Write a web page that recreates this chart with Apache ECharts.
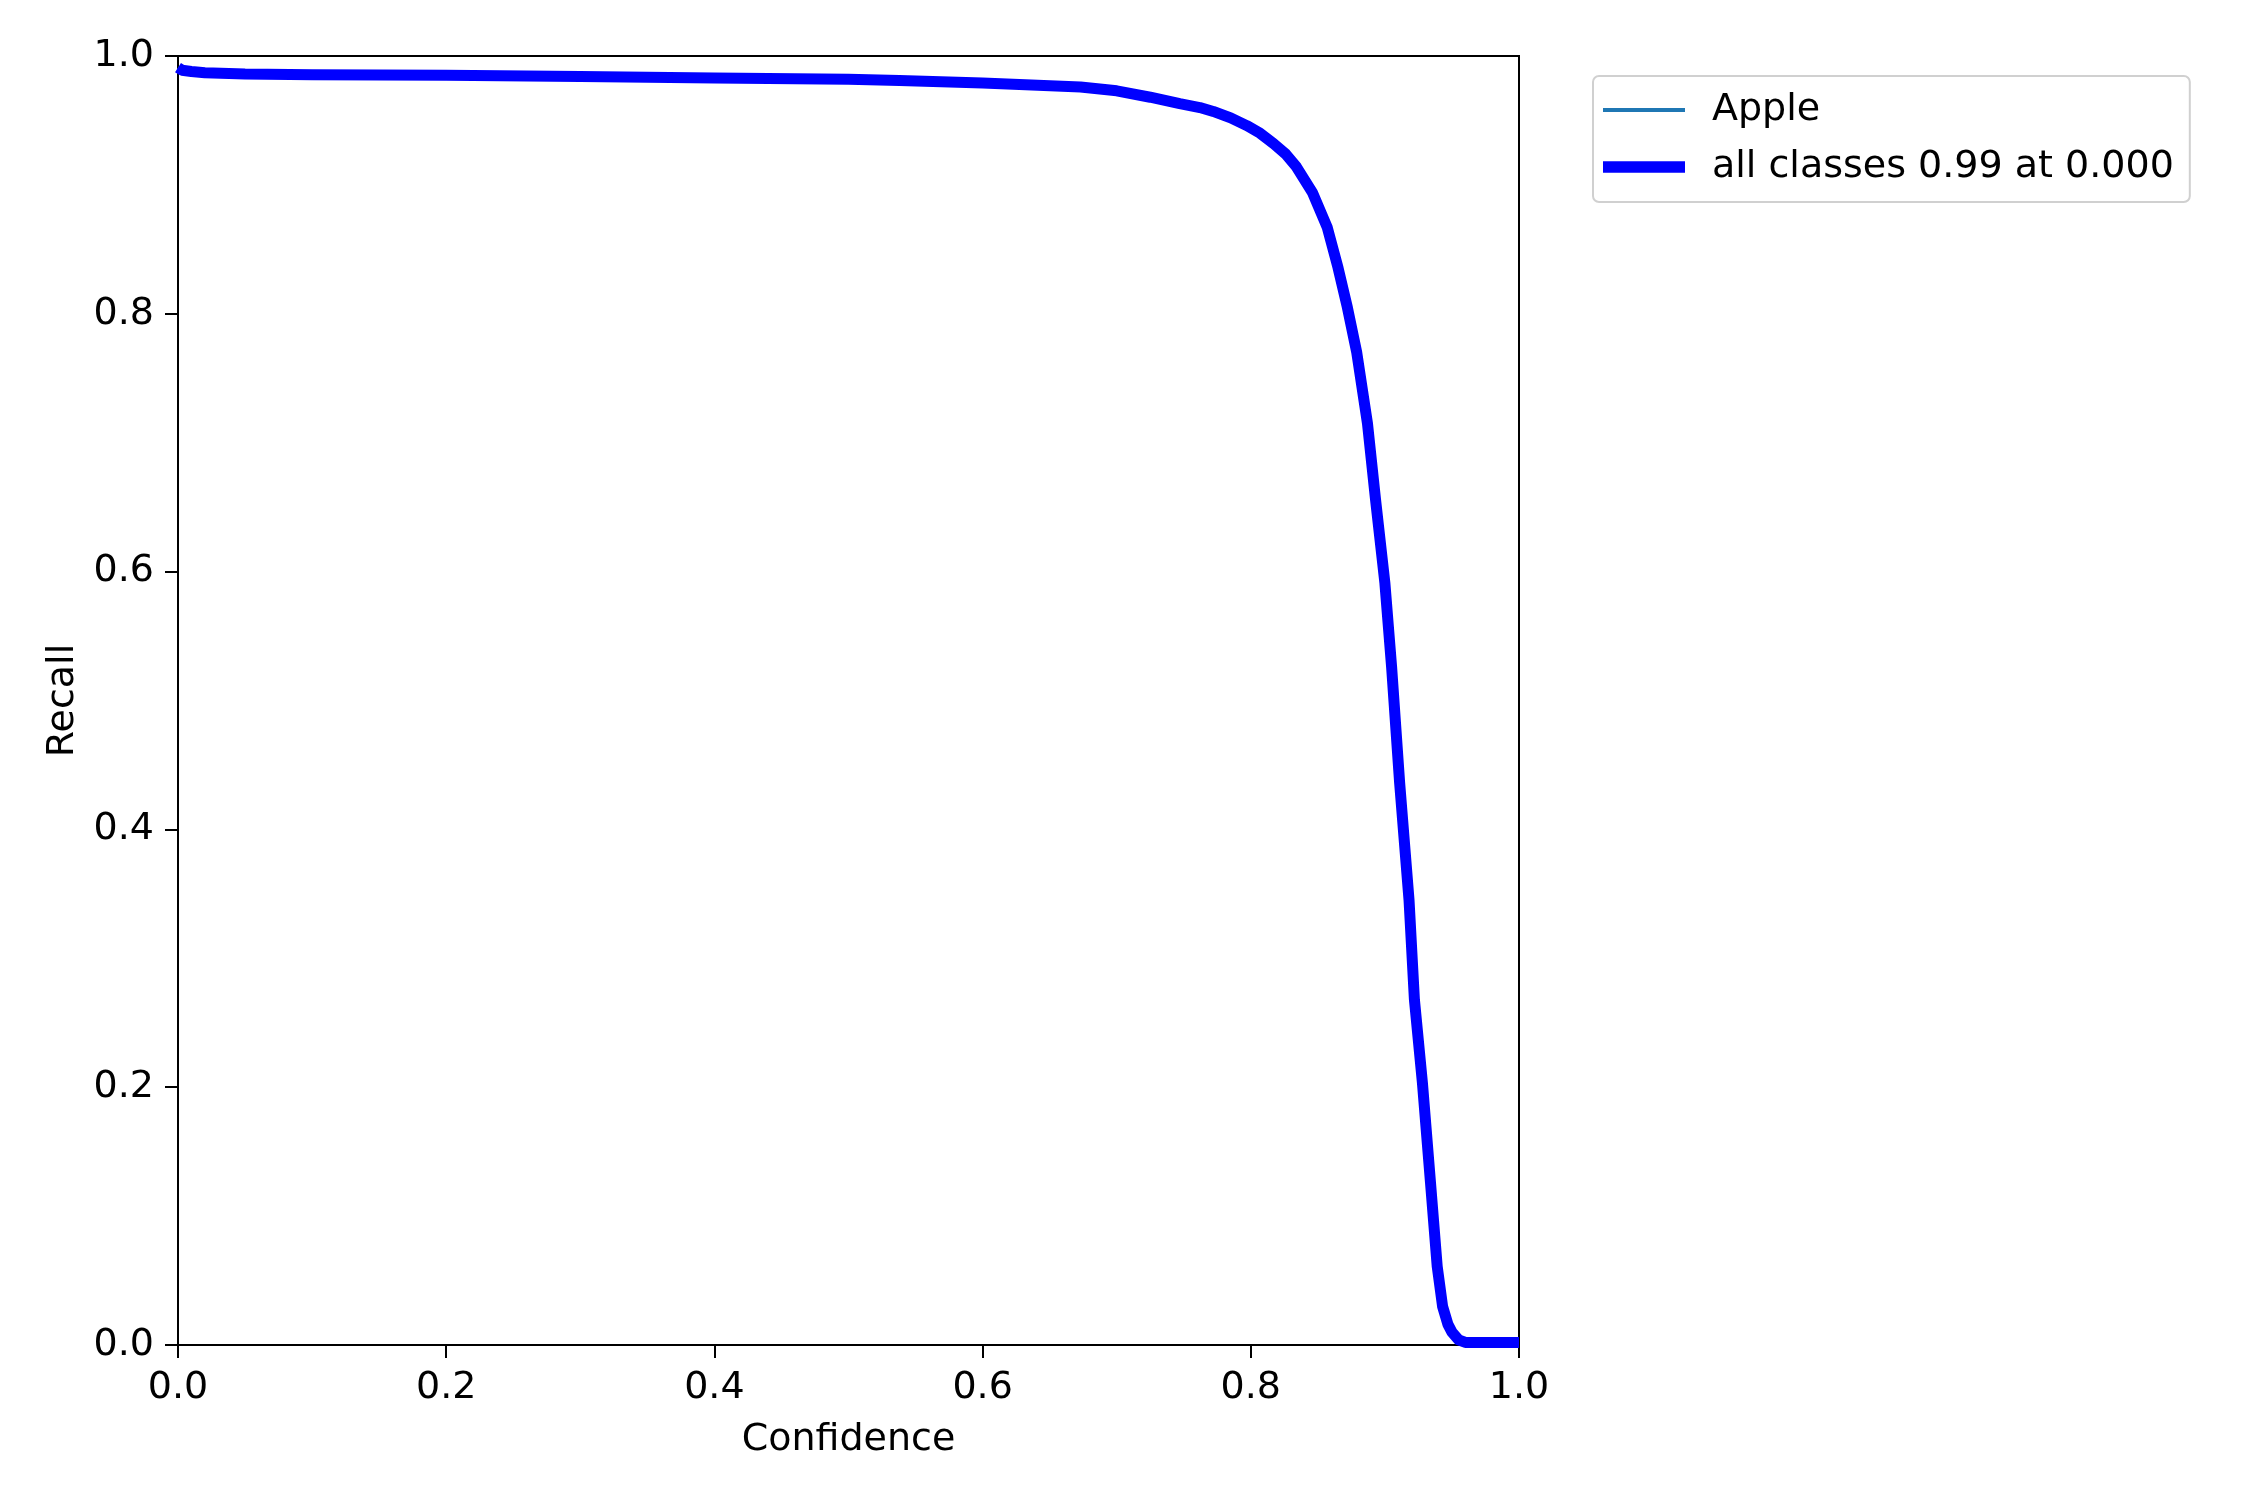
<!DOCTYPE html>
<html>
<head>
<meta charset="utf-8">
<script src="https://cdn.jsdelivr.net/npm/echarts@6/dist/echarts.min.js"></script>
<style>
html,body{margin:0;padding:0;background:#fff;}
#chart{width:2250px;height:1500px;}
</style>
</head>
<body>
<div id="chart"></div>
<script>
const confidence = [0, 0.003, 0.01, 0.02, 0.05, 0.1, 0.2, 0.3, 0.4, 0.5, 0.538, 0.6, 0.673, 0.7, 0.725, 0.747, 0.762, 0.772, 0.785, 0.797, 0.807, 0.817, 0.826, 0.834, 0.846, 0.857, 0.865, 0.872, 0.879, 0.887, 0.893, 0.9, 0.905, 0.911, 0.918, 0.922, 0.928, 0.934, 0.939, 0.943, 0.947, 0.95, 0.955, 0.96, 0.97, 0.98, 0.99, 1.0];
const recallApple = [0.991, 0.989, 0.988, 0.987, 0.986, 0.9855, 0.985, 0.984, 0.983, 0.982, 0.981, 0.979, 0.976, 0.973, 0.968, 0.963, 0.960, 0.957, 0.952, 0.946, 0.940, 0.932, 0.924, 0.914, 0.894, 0.867, 0.836, 0.805, 0.770, 0.715, 0.656, 0.591, 0.526, 0.436, 0.345, 0.268, 0.203, 0.126, 0.061, 0.030, 0.016, 0.010, 0.004, 0.002, 0.002, 0.002, 0.002, 0.002];
const recallAll = [0.991, 0.989, 0.988, 0.987, 0.986, 0.9855, 0.985, 0.984, 0.983, 0.982, 0.981, 0.979, 0.976, 0.973, 0.968, 0.963, 0.960, 0.957, 0.952, 0.946, 0.940, 0.932, 0.924, 0.914, 0.894, 0.867, 0.836, 0.805, 0.770, 0.715, 0.656, 0.591, 0.526, 0.436, 0.345, 0.268, 0.203, 0.126, 0.061, 0.030, 0.016, 0.010, 0.004, 0.002, 0.002, 0.002, 0.002, 0.002];
const seriesNames = ['Apple', 'all classes 0.99 at 0.000'];
const xTitle = 'Confidence';
const yTitle = 'Recall';

const font = 'DejaVu Sans';
const fs = 38;
const chart = echarts.init(document.getElementById('chart'), null, {renderer: 'canvas'});
const pair = (xs, ys) => xs.map((x, i) => [x, ys[i]]);

chart.setOption({
  animation: false,
  backgroundColor: '#ffffff',
  textStyle: {fontFamily: font},
  grid: {left: 178, top: 56, width: 1341, height: 1289, show: true, borderColor: '#000', borderWidth: 2, backgroundColor: 'transparent'},
  legend: {
    orient: 'vertical',
    left: 1593, top: 76,
    padding: [15, 16, 16, 10],
    itemGap: 19,
    itemWidth: 82,
    itemHeight: 20,
    borderColor: '#d0d0d0', borderWidth: 2, borderRadius: 6,
    itemStyle: {borderWidth: 0},
    textStyle: {fontFamily: font, fontSize: fs, color: '#000', padding: [0, 0, 0, 22]},
    data: [
      {name: seriesNames[0], icon: 'path://M0,0L0,0M0,20L0,20M0,8.1H82V11.9H0Z'},
      {name: seriesNames[1], icon: 'path://M0,0L0,0M0,20L0,20M0,4.25H82V15.75H0Z'}
    ]
  },
  xAxis: {
    type: 'value', min: 0, max: 1, interval: 0.2,
    name: xTitle, nameLocation: 'middle', nameGap: 76,
    nameTextStyle: {fontFamily: font, fontSize: fs, color: '#000'},
    axisLine: {show: true, lineStyle: {color: '#000', width: 2}},
    axisTick: {show: true, inside: false, length: 13, lineStyle: {color: '#000', width: 2}},
    axisLabel: {fontFamily: font, fontSize: fs, color: '#000', margin: 24, formatter: v => v.toFixed(1)},
    splitLine: {show: false}
  },
  yAxis: {
    type: 'value', min: 0, max: 1, interval: 0.2,
    name: yTitle, nameLocation: 'middle', nameGap: 96, nameRotate: 90,
    nameTextStyle: {fontFamily: font, fontSize: fs, color: '#000'},
    axisLine: {show: true, lineStyle: {color: '#000', width: 2}},
    axisTick: {show: true, inside: false, length: 13, lineStyle: {color: '#000', width: 2}},
    axisLabel: {fontFamily: font, fontSize: fs, color: '#000', margin: 24, formatter: v => v.toFixed(1)},
    splitLine: {show: false}
  },
  series: [
    {
      name: seriesNames[0], type: 'line', data: pair(confidence, recallApple),
      symbol: 'none', color: '#1f77b4',
      lineStyle: {color: '#1f77b4', width: 3.8}
    },
    {
      name: seriesNames[1], type: 'line', data: pair(confidence, recallAll),
      symbol: 'none', color: '#0000ff',
      lineStyle: {color: '#0000ff', width: 11, join: 'round', cap: 'butt'}
    }
  ]
});
</script>
</body>
</html>
